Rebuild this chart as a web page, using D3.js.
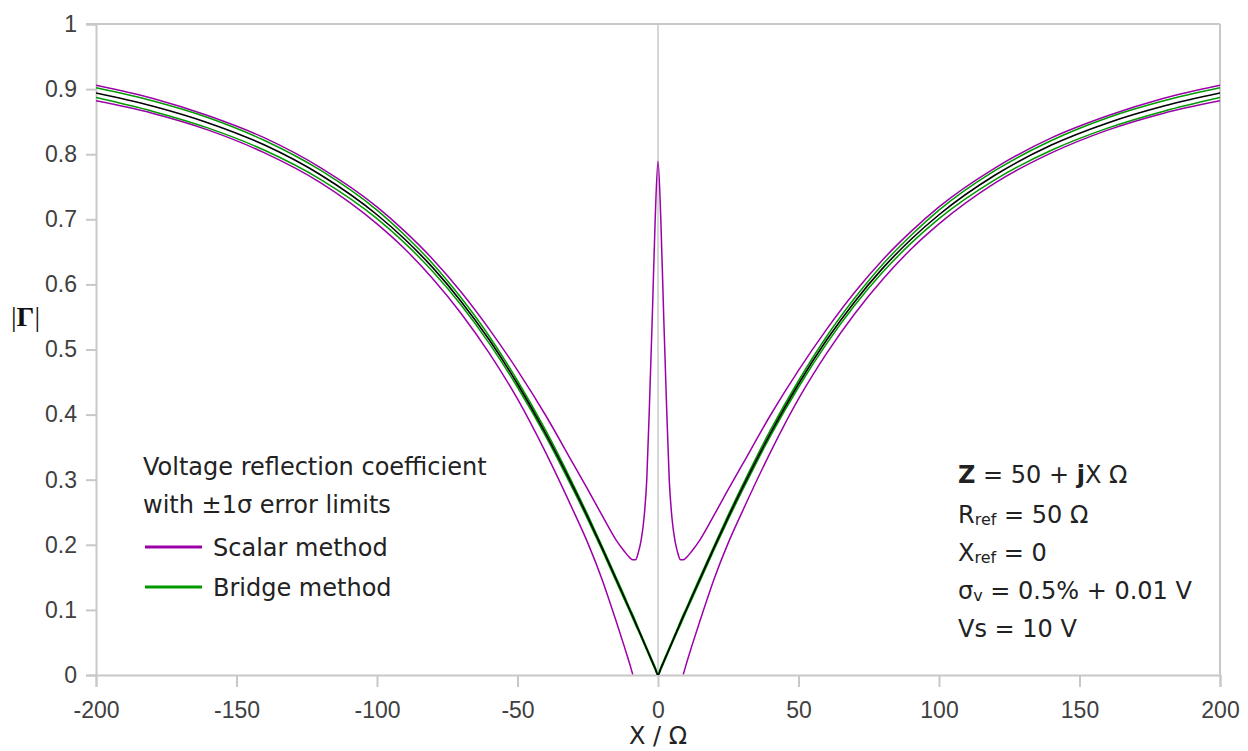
<!DOCTYPE html>
<html>
<head>
<meta charset="utf-8">
<script src="https://cdn.jsdelivr.net/npm/d3@7"></script>
<style>
  body { margin: 0; background: #fff; }
  .tick text { font-family: "Liberation Sans", Arial, sans-serif; font-size: 23px; fill: #404040; }
  .note { font-family: "DejaVu Sans", sans-serif; font-size: 24px; fill: #222; }
</style>
</head>
<body>
<div id="chart"></div>
<script>
// reactance samples (one side, mirrored for negative X)
var xHalf = [0, 1, 2, 3, 4, 5, 6, 7, 8, 9, 10, 12, 15, 20, 25, 30, 40, 50, 60, 70, 80, 90, 100, 120, 140, 160, 180, 200];
// nominal |Gamma|
var nominal = [0, 0.010, 0.020, 0.030, 0.040, 0.050, 0.060, 0.070, 0.080, 0.090, 0.0995, 0.119, 0.148, 0.196, 0.2425, 0.287, 0.371, 0.447, 0.5145, 0.5735, 0.625, 0.669, 0.707, 0.768, 0.814, 0.848, 0.874, 0.894];
// bridge method +/- 1 sigma
var bridgeHi = [0.002, 0.012, 0.022, 0.032, 0.042, 0.052, 0.062, 0.072, 0.083, 0.093, 0.102, 0.122, 0.151, 0.199, 0.246, 0.291, 0.376, 0.452, 0.520, 0.579, 0.631, 0.675, 0.714, 0.775, 0.821, 0.856, 0.882, 0.902];
var bridgeLo = [0, 0.008, 0.018, 0.028, 0.038, 0.048, 0.058, 0.068, 0.077, 0.087, 0.097, 0.116, 0.145, 0.193, 0.239, 0.283, 0.367, 0.442, 0.509, 0.568, 0.619, 0.663, 0.701, 0.761, 0.806, 0.840, 0.866, 0.887];
// scalar method +/- 1 sigma (lower limit falls below zero near X = 0)
var scalarHi = [0.789, 0.700, 0.555, 0.420, 0.300, 0.240, 0.207, 0.188, 0.177, 0.177, 0.180, 0.190, 0.208, 0.246, 0.285, 0.323, 0.399, 0.468, 0.531, 0.588, 0.638, 0.681, 0.719, 0.779, 0.825, 0.859, 0.886, 0.906];
var scalarLo = [null, null, null, null, null, null, null, null, null, 0.001, 0.016, 0.044, 0.084, 0.148, 0.203, 0.251, 0.342, 0.424, 0.494, 0.555, 0.608, 0.654, 0.693, 0.756, 0.802, 0.837, 0.863, 0.882];

var xTicks = [-200, -150, -100, -50, 0, 50, 100, 150, 200];
var yTicks = [0, 0.1, 0.2, 0.3, 0.4, 0.5, 0.6, 0.7, 0.8, 0.9, 1];

var svgWidth = 1248, svgHeight = 751;
var margin = {top: 24, right: 28, bottom: 76, left: 96};
var width = svgWidth - margin.left - margin.right;
var height = svgHeight - margin.top - margin.bottom;
var axisColor = "#c8c8c8";
var purple = "#9c00a8";
var green = "#009a00";

function mirrored(values) {
  var pts = [];
  for (var i = xHalf.length - 1; i > 0; i--) pts.push([-xHalf[i], values[i]]);
  for (var j = 0; j < xHalf.length; j++) pts.push([xHalf[j], values[j]]);
  return pts;
}

var svg = d3.select("#chart")
  .append("svg")
  .attr("width", svgWidth)
  .attr("height", svgHeight);

var g = svg.append("g")
  .attr("transform", "translate(" + margin.left + "," + margin.top + ")");

var x = d3.scaleLinear().domain([-200, 200]).range([0, width]);
var y = d3.scaleLinear().domain([0, 1]).range([height, 0]);

g.append("clipPath").attr("id", "plot")
  .append("rect").attr("width", width).attr("height", height);

// frame and zero line
g.append("line")
  .attr("x1", -10).attr("x2", width).attr("y1", 0).attr("y2", 0)
  .attr("stroke", axisColor).attr("stroke-width", 2);
g.append("line")
  .attr("x1", width).attr("x2", width).attr("y1", 0).attr("y2", height)
  .attr("stroke", axisColor).attr("stroke-width", 2);
g.append("line")
  .attr("x1", x(0)).attr("x2", x(0)).attr("y1", 0).attr("y2", height)
  .attr("stroke", axisColor).attr("stroke-width", 1.5);

var xAxis = g.append("g")
  .attr("transform", "translate(0," + height + ")")
  .call(d3.axisBottom(x).tickValues(xTicks).tickSize(12).tickPadding(10).tickFormat(function(d) { return String(d); }));
var yAxis = g.append("g")
  .call(d3.axisLeft(y).tickValues(yTicks).tickSize(10).tickPadding(9).tickFormat(function(d) { return String(+d.toFixed(1)); }));

[xAxis, yAxis].forEach(function(a) {
  a.select(".domain").attr("stroke", axisColor).attr("stroke-width", 2);
  a.selectAll(".tick line").attr("stroke", axisColor).attr("stroke-width", 2);
  a.attr("font-family", null).attr("font-size", null);
});
xAxis.selectAll(".tick text").attr("dy", "0.9em");

var line = d3.line()
  .defined(function(d) { return d[1] !== null; })
  .curve(d3.curveMonotoneX)
  .x(function(d) { return x(d[0]); })
  .y(function(d) { return y(d[1]); });

var curves = g.append("g").attr("clip-path", "url(#plot)");

[[scalarHi, purple, 1.5], [scalarLo, purple, 1.5],
 [bridgeHi, green, 1.5], [bridgeLo, green, 1.5],
 [nominal, "#000", 1.6]].forEach(function(s) {
  curves.append("path")
    .datum(mirrored(s[0]))
    .attr("fill", "none")
    .attr("stroke", s[1])
    .attr("stroke-width", s[2])
    .attr("d", line);
});

// axis titles
var yTitle = svg.append("text")
  .attr("x", 11).attr("y", 326)
  .attr("font-family", "Liberation Serif, serif").attr("font-size", 28).attr("fill", "#111");
yTitle.append("tspan").text("|");
yTitle.append("tspan").attr("font-weight", "bold").text("\u0393");
yTitle.append("tspan").text("|");

svg.append("text")
  .attr("class", "note")
  .attr("x", margin.left + x(0)).attr("y", 744)
  .attr("font-size", 23)
  .attr("text-anchor", "middle")
  .text("X / \u03a9");

// legend
svg.append("text").attr("class", "note").attr("x", 143).attr("y", 475).text("Voltage reflection coefficient");
svg.append("text").attr("class", "note").attr("x", 143).attr("y", 513).text("with \u00b11\u03c3 error limits");

var legend = [["Scalar method", purple], ["Bridge method", green]];
legend.forEach(function(d, i) {
  var ly = 547 + i * 40;
  svg.append("line")
    .attr("x1", 145).attr("x2", 202).attr("y1", ly).attr("y2", ly)
    .attr("stroke", d[1]).attr("stroke-width", 3);
  svg.append("text").attr("class", "note")
    .attr("x", 213).attr("y", ly + 9).text(d[0]);
});

// parameters block
var px = 958;
var t1 = svg.append("text").attr("class", "note").attr("x", px).attr("y", 483);
t1.append("tspan").attr("font-weight", "bold").text("Z");
t1.append("tspan").text(" = 50 + ");
t1.append("tspan").attr("font-weight", "bold").text("j");
t1.append("tspan").text("X \u03a9");

var t2 = svg.append("text").attr("class", "note").attr("x", px).attr("y", 523);
t2.append("tspan").text("R");
t2.append("tspan").attr("font-size", 16).attr("dy", 2).text("ref");
t2.append("tspan").attr("dy", -2).text(" = 50 \u03a9");

var t3 = svg.append("text").attr("class", "note").attr("x", px).attr("y", 561);
t3.append("tspan").text("X");
t3.append("tspan").attr("font-size", 16).attr("dy", 2).text("ref");
t3.append("tspan").attr("dy", -2).text(" = 0");

var t4 = svg.append("text").attr("class", "note").attr("x", px).attr("y", 599);
t4.append("tspan").text("\u03c3");
t4.append("tspan").attr("font-size", 16).attr("dy", 2).text("v");
t4.append("tspan").attr("dy", -2).text(" = 0.5% + 0.01 V");

svg.append("text").attr("class", "note").attr("x", px).attr("y", 637).text("Vs = 10 V");
</script>
</body>
</html>
